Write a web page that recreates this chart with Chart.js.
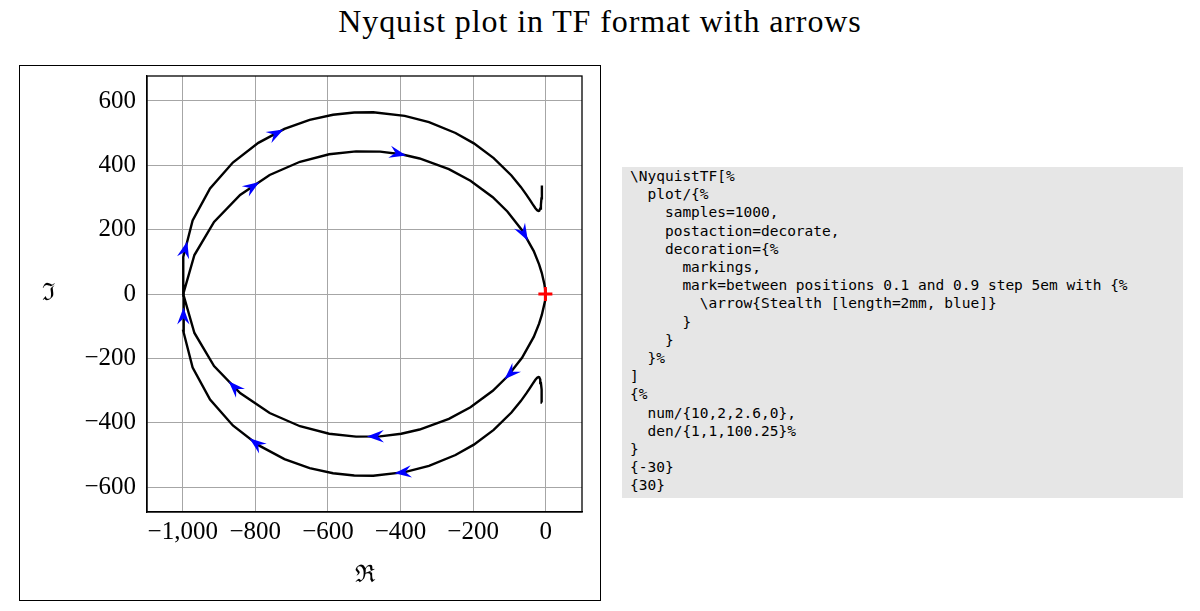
<!DOCTYPE html>
<html>
<head>
<meta charset="utf-8">
<title>Nyquist plot in TF format with arrows</title>
<script src="https://cdn.jsdelivr.net/npm/chart.js@4/dist/chart.umd.min.js"></script>
<style>
  html, body { margin: 0; padding: 0; background: #fff; }
  body { width: 1200px; height: 611px; position: relative; overflow: hidden; }
  #title { position: absolute; left: 0; width: 1200px; top: 5px; text-align: center;
    font-family: 'Liberation Serif', serif; font-size: 32px; line-height: 32px; letter-spacing: 0.9px; color: #000; }
  #frame { position: absolute; left: 19px; top: 65px; width: 580px; height: 534px; border: 1px solid #000; }
  #chart { position: absolute; left: 0; top: 0; }
  #code { position: absolute; left: 622px; top: 167px; width: 561px; height: 331px; margin: 0;
    padding: 0 0 0 8px; box-sizing: border-box; background: #e6e6e6; color: #000;
    font-family: 'DejaVu Sans Mono', monospace; font-size: 14.5px; line-height: 18.2px; white-space: pre; }
</style>
</head>
<body>
<div id="title">Nyquist plot in TF format with arrows</div>
<div id="frame"><canvas id="chart" width="580" height="534"></canvas></div>
<pre id="code">\NyquistTF[%
  plot/{%
    samples=1000,
    postaction=decorate,
    decoration={%
      markings,
      mark=between positions 0.1 and 0.9 step 5em with {%
        \arrow{Stealth [length=2mm, blue]}
      }
    }
  }%
]
{%
  num/{10,2,2.6,0},
  den/{1,1,100.25}%
}
{-30}
{30}</pre>
<script>
// G(jw), w from -30 to 0 (negative frequencies)
const reNegW = [-10.4, -10.8, -11.8, -13.3, -15.1, -17.9, -20.2, -23.5, -28.5, -37.0,
  -43.7, -53.5, -68.7, -94.5, -143.4, -198.0, -248.6, -321.6, -388.5, -475.3,
  -527.5, -586.0, -650.4, -719.8, -791.7, -861.9, -924.7, -972.7, -998.5, -997.3,
  -967.8, -913.7, -841.9, -760.5, -677.0, -596.6, -522.5, -456.2, -398.0, -347.5,
  -266.8, -207.4, -145.9, -105.7, -65.3, -33.0, -18.3, -10.8, -4.2, -1.75, -0.7, 0];
const imNegW = [-337.1, -320.5, -297.1, -276.6, -265.7, -259.0, -258.2, -260.3, -266.8, -280.8,
  -292.4, -309.0, -332.9, -368.4, -422.5, -468.2, -500.5, -534.1, -553.6, -564.7,
  -564.2, -557.2, -541.1, -513.1, -469.9, -408.7, -327.9, -228.5, -114.9, 4.9,
  121.1, 224.2, 307.9, 369.9, 411.0, 434.2, 443.4, 442.4, 434.2, 421.2,
  388.1, 352.1, 300.9, 256.6, 198.4, 133.4, 92.3, 65.1, 33.0, 16.3, 7.4, 0];
// G(jw), w from 0 to 30 (positive frequencies)
const rePosW = [-0.7, -1.75, -4.2, -10.8, -18.3, -33.0, -65.3, -105.7, -145.9, -207.4,
  -266.8, -347.5, -398.0, -456.2, -522.5, -596.6, -677.0, -760.5, -841.9, -913.7,
  -967.8, -997.3, -998.5, -972.7, -924.7, -861.9, -791.7, -719.8, -650.4, -586.0,
  -527.5, -475.3, -388.5, -321.6, -248.6, -198.0, -143.4, -94.5, -68.7, -53.5,
  -43.7, -37.0, -28.5, -23.5, -20.2, -17.9, -15.1, -13.3, -11.8, -10.8, -10.4];
const imPosW = [-7.4, -16.3, -33.0, -65.1, -92.3, -133.4, -198.4, -256.6, -300.9, -352.1,
  -388.1, -421.2, -434.2, -442.4, -443.4, -434.2, -411.0, -369.9, -307.9, -224.2,
  -121.1, -4.9, 114.9, 228.5, 327.9, 408.7, 469.9, 513.1, 541.1, 557.2,
  564.2, 564.7, 553.6, 534.1, 500.5, 468.2, 422.5, 368.4, 332.9, 309.0,
  292.4, 280.8, 266.8, 260.3, 258.2, 259.0, 265.7, 276.6, 297.1, 320.5, 337.1];

// critical point -1 + 0j
const critRe = [-1];
const critIm = [0];

const xTicks = [-1000, -800, -600, -400, -200, 0];
const yTicks = [-600, -400, -200, 0, 200, 400, 600];

const arrowStep = 153.2; // 5em along the path, in px
const serif = 'Liberation Serif';

const curveIm = imNegW.concat(imPosW);
const curve = reNegW.concat(rePosW).map((x, i) => ({ x: x, y: curveIm[i] }));
const crit = critRe.map((x, i) => ({ x: x, y: critIm[i] }));

function fmt(v) {
  return (v < 0 ? '\u2212' : '') + Math.abs(v).toLocaleString('en-US');
}

// Stealth arrows along the curve, box around the plot, axis symbols
const decor = {
  id: 'decor',
  afterDatasetsDraw(chart) {
    const ctx = chart.ctx;
    const a = chart.chartArea;
    const pts = chart.getDatasetMeta(1).data;
    const cum = [0];
    for (let i = 1; i < pts.length; i++) {
      cum.push(cum[i - 1] + Math.hypot(pts[i].x - pts[i - 1].x, pts[i].y - pts[i - 1].y));
    }
    const total = cum[cum.length - 1];
    ctx.save();
    ctx.fillStyle = '#0000ff';
    let j = 1;
    for (let s = 0.1 * total; s <= 0.9 * total; s += arrowStep) {
      while (cum[j] < s) j++;
      const p0 = pts[j - 1], p1 = pts[j];
      const t = (s - cum[j - 1]) / (cum[j] - cum[j - 1]);
      ctx.save();
      ctx.translate(p0.x + t * (p1.x - p0.x), p0.y + t * (p1.y - p0.y));
      ctx.rotate(Math.atan2(p1.y - p0.y, p1.x - p0.x));
      ctx.beginPath();
      ctx.moveTo(0, 0);
      ctx.lineTo(-17, -6.2);
      ctx.lineTo(-11, 0);
      ctx.lineTo(-17, 6.2);
      ctx.closePath();
      ctx.fill();
      ctx.restore();
    }
    ctx.strokeStyle = '#000';
    ctx.lineWidth = 1.3;
    ctx.strokeRect(a.left, a.top, a.right - a.left, a.bottom - a.top);
    ctx.fillStyle = '#000';
    ctx.font = '24px "DejaVu Serif"';
    ctx.textAlign = 'center';
    ctx.textBaseline = 'middle';
    ctx.fillText('\u2111', a.left - 99, (a.top + a.bottom) / 2);
    ctx.fillText('\u211C', (a.left + a.right) / 2, a.bottom + 64);
    ctx.restore();
  }
};

new Chart(document.getElementById('chart'), {
  type: 'scatter',
  data: {
    datasets: [{
      data: crit,
      pointStyle: 'cross',
      pointRadius: 7,
      borderColor: '#ff0000',
      borderWidth: 3,
      showLine: false
    }, {
      data: curve,
      showLine: true,
      borderColor: '#000',
      borderWidth: 2.4,
      pointRadius: 0,
      tension: 0
    }]
  },
  options: {
    responsive: false,
    animation: false,
    devicePixelRatio: 1,
    layout: { padding: { left: 0, top: 10, right: 18, bottom: 0 } },
    plugins: { legend: { display: false }, tooltip: { enabled: false } },
    scales: {
      x: {
        type: 'linear',
        min: -1098.4,
        max: 99.9,
        afterBuildTicks: s => { s.ticks = xTicks.map(v => ({ value: v })); },
        afterFit: s => { s.height = 88; s.paddingLeft = 0; s.paddingRight = 0; },
        grid: { color: '#a6a6a6', lineWidth: 1, drawTicks: false },
        border: { display: true, color: '#000', width: 1.3 },
        ticks: { color: '#000', font: { family: serif, size: 25 }, padding: 5,
          maxRotation: 0, autoSkip: false, callback: fmt }
      },
      y: {
        type: 'linear',
        min: -677.6,
        max: 677.6,
        afterBuildTicks: s => { s.ticks = yTicks.map(v => ({ value: v })); },
        afterFit: s => { s.width = 127; s.paddingTop = 0; s.paddingBottom = 0; },
        grid: { color: '#a6a6a6', lineWidth: 1, drawTicks: false },
        border: { display: true, color: '#000', width: 1.3 },
        ticks: { color: '#000', font: { family: serif, size: 25 }, padding: 11, callback: fmt }
      }
    }
  },
  plugins: [decor]
});
</script>
</body>
</html>
